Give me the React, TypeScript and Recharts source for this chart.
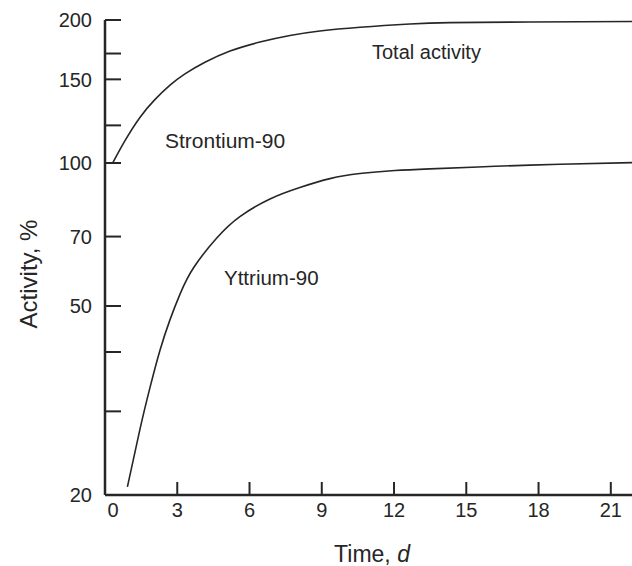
import { LineChart, Line, XAxis, YAxis } from "recharts";

// Time (days) and activity (%)
const totalDays = [0.32, 0.83, 1.45, 2.08, 2.7, 3.32, 4.15, 5.19, 6.43, 7.68, 8.92, 10.59, 12.66, 14.32, 17.64, 21.88];
const totalPct = [100, 111.4, 124.7, 136.1, 145.8, 154, 162.9, 172.1, 179.7, 185.5, 189.6, 193.1, 196.2, 197.5, 198.1, 198.5];

const yttriumDays = [0.93, 1.45, 1.87, 2.28, 2.7, 3.11, 3.67, 4.64, 5.6, 6.85, 8.09, 9.34, 10.58, 12.04, 13.49, 16.19, 18.89, 21.88];
const yttriumPct = [20.8, 27.5, 33.7, 40.3, 46.8, 52.9, 60.1, 69.5, 77.1, 84, 88.8, 92.7, 95, 96.4, 97.2, 98.4, 99.4, 100.2];

const xTicks = [0, 3, 6, 9, 12, 15, 18, 21];
const yTicks = [20, 30, 40, 50, 70, 100, 120, 150, 170, 200];
const yLabelled = [20, 50, 70, 100, 150, 200];

const totalData = totalDays.map((t, i) => ({ t, v: totalPct[i] }));
const yttriumData = yttriumDays.map((t, i) => ({ t, v: yttriumPct[i] }));

const INK = "#262626";
const FONT = "'Liberation Sans', Arial, sans-serif";

// ticks point inward, like the printed figure
// eslint-disable-next-line @typescript-eslint/no-explicit-any
const YTick = ({ x, y, payload }: any) => {
  const v = payload.value;
  return (
    <g>
      <line x1={x} x2={x + 16} y1={y} y2={y} stroke={INK} strokeWidth={2} />
      {yLabelled.includes(v) && (
        <text x={x - 13} y={y} dy="0.36em" textAnchor="end" fontSize={20} fill={INK} fontFamily={FONT}>
          {v}
        </text>
      )}
    </g>
  );
};

// eslint-disable-next-line @typescript-eslint/no-explicit-any
const XTick = ({ x, y, payload }: any) => {
  const v = payload.value;
  return (
    <g>
      {v !== 0 && <line x1={x} x2={x} y1={y} y2={y - 13} stroke={INK} strokeWidth={2} />}
      <text x={v === 0 ? x + 8 : x} y={y + 22} textAnchor="middle" fontSize={20} fill={INK} fontFamily={FONT}>
        {v}
      </text>
    </g>
  );
};

export default function App() {
  return (
    <div style={{ position: "absolute", left: 0, top: 0, width: 632, height: 566, background: "#fff" }}>
      <LineChart width={632} height={566} margin={{ top: 20, right: 0, bottom: 0, left: 0 }}>
        <XAxis
          type="number"
          dataKey="t"
          domain={[0, 21.88]}
          allowDataOverflow
          ticks={xTicks}
          interval={0}
          tick={XTick}
          tickSize={0}
          tickMargin={0}
          tickLine={false}
          axisLine={{ stroke: INK, strokeWidth: 2.5 }}
          height={71}
        />
        <YAxis
          type="number"
          scale="log"
          domain={[20, 200]}
          allowDataOverflow
          ticks={yTicks}
          interval={0}
          tick={YTick}
          tickSize={0}
          tickMargin={0}
          tickLine={false}
          axisLine={{ stroke: INK, strokeWidth: 2.5 }}
          width={105}
        />
        <Line
          data={totalData}
          dataKey="v"
          name="Total activity"
          type="natural"
          stroke={INK}
          strokeWidth={1.6}
          dot={false}
          isAnimationActive={false}
        />
        <Line
          data={yttriumData}
          dataKey="v"
          name="Yttrium-90"
          type="natural"
          stroke={INK}
          strokeWidth={1.6}
          dot={false}
          isAnimationActive={false}
        />
        <text x={372} y={59} fontSize={20} fill={INK} fontFamily={FONT}>Total activity</text>
        <text x={165} y={148} fontSize={21} fill={INK} fontFamily={FONT}>Strontium-90</text>
        <text x={224} y={285} fontSize={20.5} fill={INK} fontFamily={FONT}>Yttrium-90</text>
        <text
          x={37}
          y={274}
          transform="rotate(-90 37 274)"
          textAnchor="middle"
          fontSize={24}
          fill={INK}
          fontFamily={FONT}
        >
          Activity, %
        </text>
        <text x={372} y={562} textAnchor="middle" fontSize={23} fill={INK} fontFamily={FONT}>
          Time, <tspan fontStyle="italic">d</tspan>
        </text>
      </LineChart>
    </div>
  );
}
